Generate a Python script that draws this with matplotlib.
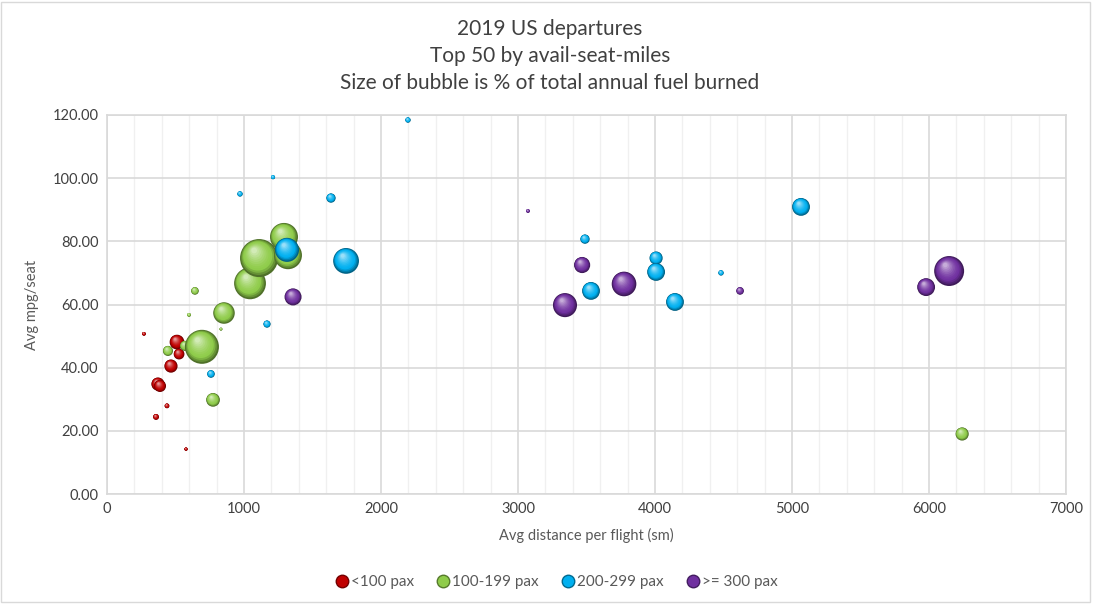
import numpy as np
import matplotlib.pyplot as plt
from matplotlib.colors import to_rgb
from matplotlib.lines import Line2D
from matplotlib.patches import Rectangle

plt.rcParams['font.family'] = ['Lato', 'DejaVu Sans']

DPI = 100
SIZE_SCALE = 150  # marker area (pt^2) per 1% of fuel burned

# <100 pax
small_dist = [270, 511, 526, 467, 372, 387, 438, 358, 577]
small_mpg = [50.7, 48.1, 44.3, 40.5, 34.8, 34.2, 27.9, 24.4, 14.2]
small_fuel = [0.05, 0.75, 0.4, 0.6, 0.6, 0.5, 0.08, 0.12, 0.04]

# 100-199 pax
mid_dist = [642, 599, 854, 832, 445, 569, 693, 774, 1044, 1110, 1321, 1292, 6242]
mid_mpg = [64.3, 56.7, 57.3, 52.2, 45.3, 46.9, 46.6, 29.8, 66.7, 74.7, 75.6, 81.4, 19.0]
mid_fuel = [0.2, 0.05, 1.6, 0.03, 0.35, 0.35, 4.0, 0.65, 3.5, 5.0, 2.7, 2.7, 0.6]

# 200-299 pax
wide_dist = [971, 1212, 1635, 1168, 759, 2197, 1745, 3489, 3533, 4008, 4008,
             4146, 4482, 5066, 1314]
wide_mpg = [95.0, 100.3, 93.7, 53.8, 38.0, 118.4, 73.8, 80.7, 64.3, 74.7, 70.3,
            60.8, 70.0, 90.9, 77.3]
wide_fuel = [0.1, 0.06, 0.3, 0.18, 0.2, 0.1, 2.3, 0.3, 1.1, 0.6, 1.1,
             1.1, 0.1, 1.1, 2.0]

# >= 300 pax
jumbo_dist = [1358, 3073, 3468, 3343, 3774, 4621, 5979, 6147]
jumbo_mpg = [62.4, 89.6, 72.5, 59.8, 66.5, 64.3, 65.5, 70.6]
jumbo_fuel = [1.0, 0.05, 0.9, 2.0, 2.1, 0.2, 1.1, 3.1]

series = [
    ("<100 pax", small_dist, small_mpg, small_fuel, "#c00000"),
    ("100-199 pax", mid_dist, mid_mpg, mid_fuel, "#8fcc4a"),
    ("200-299 pax", wide_dist, wide_mpg, wide_fuel, "#00b0f0"),
    (">= 300 pax", jumbo_dist, jumbo_mpg, jumbo_fuel, "#7030a0"),
]


def sphere_layers(base, n=12):
    base = np.array(to_rgb(base))
    dark = base * 0.55
    light = base + (1 - base) * 0.6
    cols, scales = [], []
    for i in range(n):
        t = i / (n - 1)
        if t < 0.25:
            c = dark + (base - dark) * (t / 0.25)
        else:
            c = base + (light - base) * ((t - 0.25) / 0.75) ** 1.5
        cols.append(np.clip(c, 0, 1))
        scales.append(1 - 0.85 * t)
    return cols, scales


def draw_spheres(ax, xs, ys, fuel, base, z):
    cols, scales = sphere_layers(base)
    to_px = ax.transData
    to_data = ax.transData.inverted()
    for x, y, f in zip(xs, ys, fuel):
        s = f * SIZE_SCALE
        r_px = np.sqrt(s) * DPI / 72 / 2
        cx, cy = to_px.transform((x, y))
        lx, ly, ls = [], [], []
        for k in scales:
            off = (1 - k) * r_px * 0.55
            dx, dy = to_data.transform((cx - off * 0.55, cy + off * 0.85))
            lx.append(dx)
            ly.append(dy)
            ls.append(s * k * k)
        ax.scatter(lx, ly, s=ls, c=cols, linewidths=0, zorder=z)
        z += 1
    return z


fig = plt.figure(figsize=(10.93, 6.04), dpi=DPI)
ax = fig.add_axes([107 / 1093, 1 - 494 / 604, (1066 - 107) / 1093, (494 - 115) / 604])

ax.set_xlim(0, 7000)
ax.set_ylim(0, 120)
ax.set_xticks(range(0, 7001, 1000))
ax.set_xticks(range(0, 7001, 200), minor=True)
ax.set_yticks(range(0, 121, 20))
ax.set_yticklabels([f"{v:.2f}" for v in range(0, 121, 20)])
ax.grid(which="major", color="#d9d9d9", lw=1.2, zorder=0)
ax.grid(which="minor", axis="x", color="#f0f0f0", lw=1.0, zorder=0)
ax.set_axisbelow(True)
for sp in ax.spines.values():
    sp.set_color("#d9d9d9")
    sp.set_linewidth(1.2)
ax.tick_params(which="both", length=0, labelsize=10.5, labelcolor="#404040", pad=6)

ax.set_xlabel("Avg distance per flight (sm)", fontsize=10.5, color="#595959", labelpad=8)
ax.set_ylabel("Avg mpg/seat", fontsize=10.5, color="#595959", labelpad=10)

z = 3
for name, xs, ys, fuel, col in series:
    z = draw_spheres(ax, xs, ys, fuel, col, z)

fig.text(0.503, 0.907, "2019 US departures\nTop 50 by avail-seat-miles\n"
         "Size of bubble is % of total annual fuel burned",
         ha="center", va="center", fontsize=15, color="#404040", linespacing=1.42)

handles = [Line2D([], [], ls="none", marker="o", markersize=9,
                  markerfacecolor=col, markeredgecolor=np.array(to_rgb(col)) * 0.6,
                  markeredgewidth=1.0)
           for name, xs, ys, fuel, col in series]
fig.legend(handles, [s[0] for s in series], loc="center", ncol=4,
           bbox_to_anchor=(0.508, 1 - 582 / 604), frameon=False,
           fontsize=11, labelcolor="#595959", handletextpad=0.0,
           handlelength=1.2, columnspacing=1.3)

fig.add_artist(Rectangle((0.001, 0.004), 0.996, 0.993, transform=fig.transFigure,
                         fill=False, edgecolor="#d9d9d9", lw=1.0))

fig.savefig("out.png", dpi=DPI)
